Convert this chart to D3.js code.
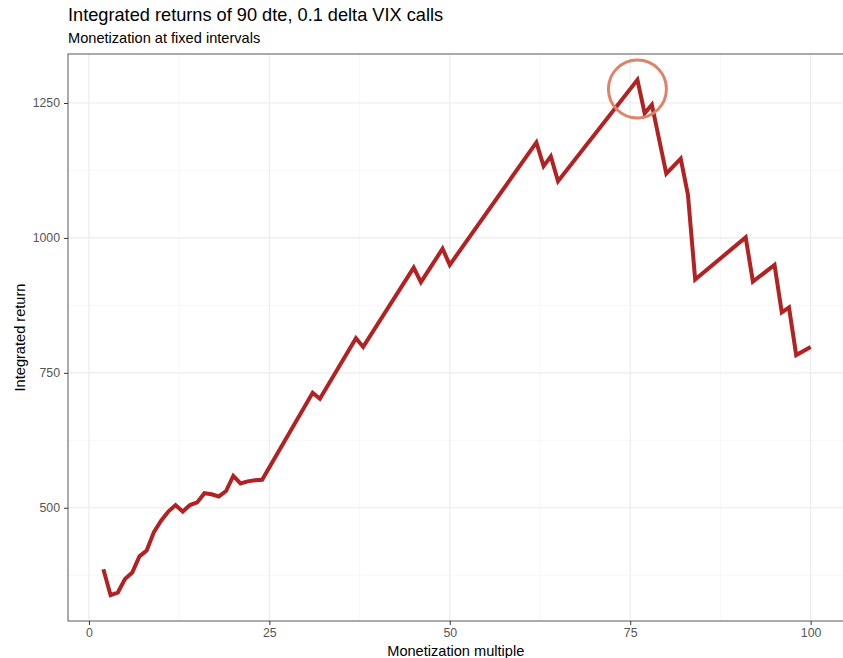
<!DOCTYPE html>
<html><head><meta charset="utf-8">
<script src="https://cdn.jsdelivr.net/npm/d3@7"></script>
<style>
body{margin:0;background:#fff;}
text{font-family:"Liberation Sans",Arial,Helvetica,sans-serif;}
</style></head>
<body><svg id="c" width="843" height="658"></svg>
<script>
const multiples = [2,3,4,5,6,7,8,9,10,11,12,13,14,15,16,17,18,19,20,21,22,23,24,31,32,37,38,45,46,49,50,62,63,64,65,76,77,78,80,82,83,84,91,92,95,96,97,98,100];
const returns   = [386,338,343,368,380,410,421,455,476,493,505,493,505,510,527,525,521,531,559,545,549,551,552,713,702,814,798,945,918,980,950,1177,1133,1151,1105,1293,1231,1247,1119,1147,1080,923,1001,919,950,862,871,783,798];
const xTicks = [0,25,50,75,100];
const yTicks = [500,750,1000,1250];
const highlight = {x:76, y:1276};
const title = "Integrated returns of 90 dte, 0.1 delta VIX calls";
const subtitle = "Monetization at fixed intervals";
const xLabel = "Monetization multiple";
const yLabel = "Integrated return";

const svg = d3.select("#c");
const L=68, R=846, T=54, B=621;
const xmin=d3.min(multiples), xmax=d3.max(multiples);
const ymin=d3.min(returns), ymax=d3.max(returns);
const xe=(xmax-xmin)*0.05, ye=(ymax-ymin)*0.05;
const x=d3.scaleLinear().domain([xmin-xe,xmax+xe]).range([L,R]);
const y=d3.scaleLinear().domain([ymin-ye,ymax+ye]).range([B,T]);

svg.append("rect").attr("x",0).attr("y",0).attr("width",843).attr("height",658).attr("fill","#fff");
const g=svg.append("g");
const xMinor=xTicks.slice(0,-1).map((d,i)=>(d+xTicks[i+1])/2);
const yMinor=[375].concat(yTicks.map(d=>d+125)).filter(v=>v>y.domain()[0]&&v<y.domain()[1]);
g.selectAll(".xm").data(xMinor).join("line").attr("x1",d=>x(d)).attr("x2",d=>x(d)).attr("y1",T).attr("y2",B).attr("stroke","#f2f2f2").attr("stroke-width",0.6);
g.selectAll(".ym").data(yMinor).join("line").attr("y1",d=>y(d)).attr("y2",d=>y(d)).attr("x1",L).attr("x2",R).attr("stroke","#f2f2f2").attr("stroke-width",0.6);
g.selectAll(".xg").data(xTicks).join("line").attr("x1",d=>x(d)).attr("x2",d=>x(d)).attr("y1",T).attr("y2",B).attr("stroke","#ebebeb").attr("stroke-width",1.1);
g.selectAll(".yg").data(yTicks).join("line").attr("y1",d=>y(d)).attr("y2",d=>y(d)).attr("x1",L).attr("x2",R).attr("stroke","#ebebeb").attr("stroke-width",1.1);

const data=multiples.map((m,i)=>[m,returns[i]]);
g.append("path").datum(data).attr("fill","none").attr("stroke","#b22222").attr("stroke-width",4).attr("stroke-linejoin","miter").attr("stroke-miterlimit",4)
 .attr("d",d3.line().x(d=>x(d[0])).y(d=>y(d[1])));

g.append("circle").attr("cx",x(highlight.x)).attr("cy",y(highlight.y)).attr("r",29).attr("fill","none").attr("stroke","#e0826a").attr("stroke-width",3);

g.append("rect").attr("x",L).attr("y",T).attr("width",R-L).attr("height",B-T).attr("fill","none").attr("stroke","#666").attr("stroke-width",1.1);

const xa=svg.append("g").attr("transform",`translate(0,${B})`).call(d3.axisBottom(x).tickValues(xTicks).tickFormat(d3.format("d")).tickSize(4).tickPadding(3));
const ya=svg.append("g").attr("transform",`translate(${L},0)`).call(d3.axisLeft(y).tickValues(yTicks).tickFormat(d3.format("d")).tickSize(4).tickPadding(4));
[xa,ya].forEach(a=>{a.select(".domain").remove();a.selectAll(".tick line").attr("stroke","#333").attr("stroke-width",1);
 a.selectAll("text").attr("fill","#555").style("font-size","12.3px").style("font-family","'Liberation Sans',Arial,sans-serif");});

svg.append("text").attr("x",L).attr("y",21).attr("font-size","18.2px").attr("fill","#000").text(title);
svg.append("text").attr("x",L).attr("y",43).attr("font-size","14.6px").attr("fill","#000").text(subtitle);
svg.append("text").attr("x",x(50)+6).attr("y",656).attr("text-anchor","middle").attr("font-size","14.6px").attr("fill","#000").text(xLabel);
svg.append("text").attr("transform",`translate(25,${(T+B)/2}) rotate(-90)`).attr("text-anchor","middle").attr("font-size","14.6px").attr("fill","#000").text(yLabel);
</script></body></html>
